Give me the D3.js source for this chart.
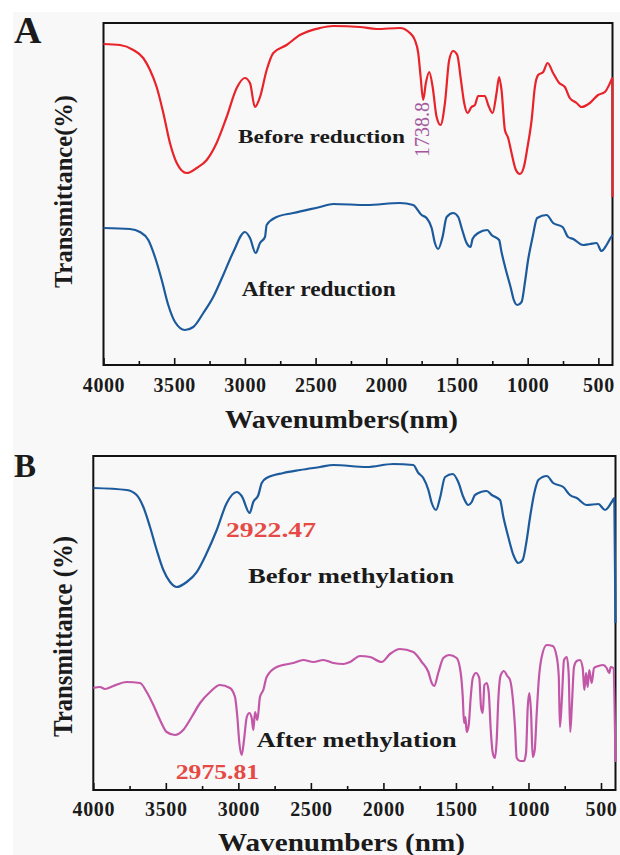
<!DOCTYPE html>
<html>
<head>
<meta charset="utf-8">
<script src="https://cdn.jsdelivr.net/npm/d3@7"></script>
<style>
  body { margin: 0; background: #fff; }
  text { font-family: "Liberation Serif", "Times New Roman", serif; }
</style>
</head>
<body>
<svg width="620" height="855"></svg>
<script>
'use strict';
//..........Data (wavenumber, transmittance a.u.)................
const beforeReduction = [
  [4000,321],[3883,320],[3789,315],[3719,307],[3671,295],[3624,278],[3577,252],[3530,222],[3482,202],[3412,192],
  [3341,197],[3270,205],[3200,222],[3129,248],[3058,277],[3000,287],[2964,282],[2929,258],[2893,268],[2846,295],
  [2799,312],[2705,320],[2611,330],[2469,337],[2375,339],[2186,338],[2068,336],[1904,337],[1833,332],[1798,325],
  [1774,312],[1757,288],[1739,265],[1720,282],[1696,293],[1672,278],[1644,248],[1616,240],[1585,262],[1555,305],
  [1527,314],[1498,310],[1472,285],[1449,262],[1425,252],[1397,258],[1373,260],[1350,269],[1303,269],[1279,260],
  [1248,252],[1220,272],[1202,288],[1185,275],[1161,235],[1138,227],[1114,212],[1083,195],[1055,191],[1027,198],
  [1001,218],[972,245],[949,278],[926,290],[890,293],[859,302],[820,292],[777,282],[737,278],[702,267],
  [654,262],[619,258],[560,262],[502,270],[454,273],[414,283],[401,287],[400,168]
];
const afterReduction = [
  [4000,137],[3813,136],[3742,133],[3683,125],[3636,108],[3588,85],[3542,60],[3494,43],[3424,35],[3365,38],
  [3294,52],[3224,68],[3153,90],[3082,113],[3000,133],[2964,127],[2924,112],[2893,122],[2858,128],[2846,140],
  [2775,148],[2658,152],[2469,158],[2375,161],[2139,160],[1904,162],[1810,160],[1750,150],[1715,147],[1679,137],
  [1656,122],[1633,116],[1602,128],[1573,148],[1527,152],[1491,148],[1467,137],[1432,122],[1404,118],[1390,126],
  [1350,132],[1286,135],[1255,130],[1202,125],[1185,113],[1154,95],[1121,78],[1098,65],[1074,60],[1043,63],
  [1020,82],[997,105],[965,128],[933,147],[866,150],[820,142],[753,138],[714,128],[678,126],[608,120],
  [560,121],[513,122],[478,114],[442,120],[414,127],[400,130]
];
const beforeMethylation = [
  [4000,302],[3770,300],[3701,295],[3655,283],[3609,263],[3563,240],[3517,220],[3471,208],[3425,203],[3356,208],
  [3287,218],[3218,237],[3149,260],[3080,287],[3011,298],[2977,294],[2922,277],[2897,288],[2862,295],[2839,307],
  [2805,312],[2690,317],[2575,320],[2437,323],[2345,325],[2115,323],[1932,326],[1794,325],[1759,317],[1725,312],
  [1690,300],[1667,287],[1637,280],[1610,292],[1575,313],[1522,316],[1484,308],[1449,293],[1415,285],[1391,288],
  [1369,295],[1288,299],[1253,295],[1196,290],[1173,273],[1139,253],[1104,235],[1070,227],[1040,230],[1012,250],
  [989,273],[955,300],[932,310],[874,314],[829,307],[760,303],[714,295],[667,292],[598,285],[518,286],
  [472,280],[426,288],[408,292],[400,167]
];
const afterMethylation = [
  [4000,102],[3954,103],[3919,101],[3862,104],[3770,108],[3678,107],[3632,98],[3586,85],[3540,70],[3494,58],
  [3437,55],[3380,60],[3322,73],[3264,87],[3195,98],[3127,105],[3058,102],[3023,93],[3007,73],[2993,47],
  [2977,35],[2961,50],[2942,73],[2924,77],[2908,72],[2897,60],[2885,78],[2869,70],[2851,93],[2828,100],
  [2805,113],[2736,123],[2621,127],[2552,130],[2483,128],[2414,130],[2345,127],[2276,126],[2230,128],[2161,134],
  [2092,133],[2012,128],[1955,136],[1886,141],[1794,138],[1736,128],[1690,118],[1667,107],[1650,104],[1622,117],
  [1587,132],[1546,135],[1495,132],[1467,117],[1453,93],[1444,67],[1435,73],[1426,58],[1412,65],[1398,93],
  [1384,112],[1362,117],[1339,112],[1327,83],[1315,77],[1304,105],[1288,107],[1274,98],[1260,60],[1246,37],
  [1231,32],[1219,50],[1208,90],[1191,115],[1169,119],[1146,114],[1127,110],[1109,93],[1093,63],[1081,32],
  [1058,29],[1031,29],[1017,37],[1005,83],[994,97],[982,77],[971,33],[957,40],[943,77],[929,110],
  [909,133],[874,145],[833,144],[805,133],[791,113],[783,63],[769,93],[755,130],[736,133],[723,117],
  [712,58],[700,87],[686,123],[667,129],[645,130],[626,122],[615,100],[603,117],[592,103],[581,120],
  [564,107],[548,122],[518,124],[484,125],[461,122],[443,117],[433,123],[415,122],[400,28]
];
const majorTicks = [4000, 3500, 3000, 2500, 2000, 1500, 1000, 500];
const minorTicks = [3750, 3250, 2750, 2250, 1750, 1250, 750];

//..........Setup................
const svg = d3.select('svg');
const ink = '#1b1b1b';

svg.append('rect')
    .attr('x', 13).attr('y', 12)
    .attr('width', 607).attr('height', 843)
    .attr('fill', '#f8f8f8');

function label(g, txt, x, y, size, len, opts) {
  opts = opts || {};
  const t = g.append('text')
      .attr('transform', opts.rotate ? `translate(${x} ${y}) rotate(-90)` : `translate(${x} ${y})`)
      .attr('font-size', size)
      .attr('font-weight', opts.normal ? 'normal' : 'bold')
      .attr('fill', opts.color || ink)
      .text(txt);
  if (len) t.attr('textLength', len).attr('lengthAdjust', 'spacingAndGlyphs');
  return t;
}

//..........Panel drawing................
function drawPanel(p) {
  const x = d3.scaleLinear().domain([4000, 400]).range([p.left, p.right]);
  const y = d3.scaleLinear().domain(p.yDomain).range([p.bottom, p.top]);
  const g = svg.append('g');

  g.append('rect')
      .attr('x', p.left).attr('y', p.top)
      .attr('width', p.right - p.left).attr('height', p.bottom - p.top)
      .attr('fill', 'none').attr('stroke', '#111').attr('stroke-width', 2);

  const major = g.append('g')
      .attr('transform', `translate(0 ${p.bottom})`)
      .call(d3.axisBottom(x).tickValues(majorTicks).tickSize(-7).tickFormat(d3.format('d')));
  major.select('.domain').remove();
  major.selectAll('line').attr('stroke', '#111').attr('stroke-width', 1.6);
  major.selectAll('text')
      .attr('y', p.tickY).attr('dy', 0)
      .attr('font-family', '"Liberation Serif", serif')
      .attr('font-size', 20).attr('font-weight', 'bold')
      .attr('letter-spacing', 0.6)
      .attr('fill', ink);

  const minor = g.append('g')
      .attr('transform', `translate(0 ${p.bottom})`)
      .call(d3.axisBottom(x).tickValues(minorTicks).tickSize(-4).tickFormat(''));
  minor.select('.domain').remove();
  minor.selectAll('line').attr('stroke', '#111').attr('stroke-width', 1.6);

  const line = d3.line()
      .x(d => x(d[0]))
      .y(d => y(d[1]))
      .curve(d3.curveMonotoneX);
  p.series.forEach(s => {
    g.append('path')
        .attr('d', line(s.data))
        .attr('fill', 'none')
        .attr('stroke', s.color)
        .attr('stroke-width', 2.2)
        .attr('stroke-linejoin', 'round');
  });
  return g;
}

//..........Panel A................
const gA = drawPanel({
  left: 103.5, right: 612.5, top: 23, bottom: 365, yDomain: [0, 342], tickY: 26.5,
  series: [
    { data: beforeReduction, color: '#e8232a' },
    { data: afterReduction, color: '#1c5a9c' }
  ]
});
label(gA, 'A', 14, 43, 38, 0);
label(gA, 'Before reduction', 238, 143.3, 19, 167);
label(gA, 'After reduction', 241.7, 296, 20, 154);
label(gA, '1738.8', 429, 157, 22, 55, { rotate: true, normal: true, color: '#a4569d' });
label(gA, 'Wavenumbers(nm)', 225, 428, 25, 233);
label(gA, 'Transmittance(%)', 72, 288, 26, 193, { rotate: true });

//..........Panel B................
const gB = drawPanel({
  left: 93.3, right: 615.5, top: 456, bottom: 790, yDomain: [0, 334], tickY: 25.7,
  series: [
    { data: beforeMethylation, color: '#1c5a9c' },
    { data: afterMethylation, color: '#c257a8' }
  ]
});
label(gB, 'B', 14, 477, 33, 0);
label(gB, '2922.47', 226, 537.3, 21, 90, { color: '#e64a45' });
label(gB, 'Befor methylation', 248, 583.3, 20, 206);
label(gB, 'After methylation', 256.7, 746.7, 21, 200);
label(gB, '2975.81', 175.7, 779.3, 22, 83.5, { color: '#e64a45' });
label(gB, 'Wavenumbers (nm)', 218, 850.5, 25, 247);
label(gB, 'Transmittance (%)', 71.7, 737, 28, 201, { rotate: true });
</script>
</body>
</html>
